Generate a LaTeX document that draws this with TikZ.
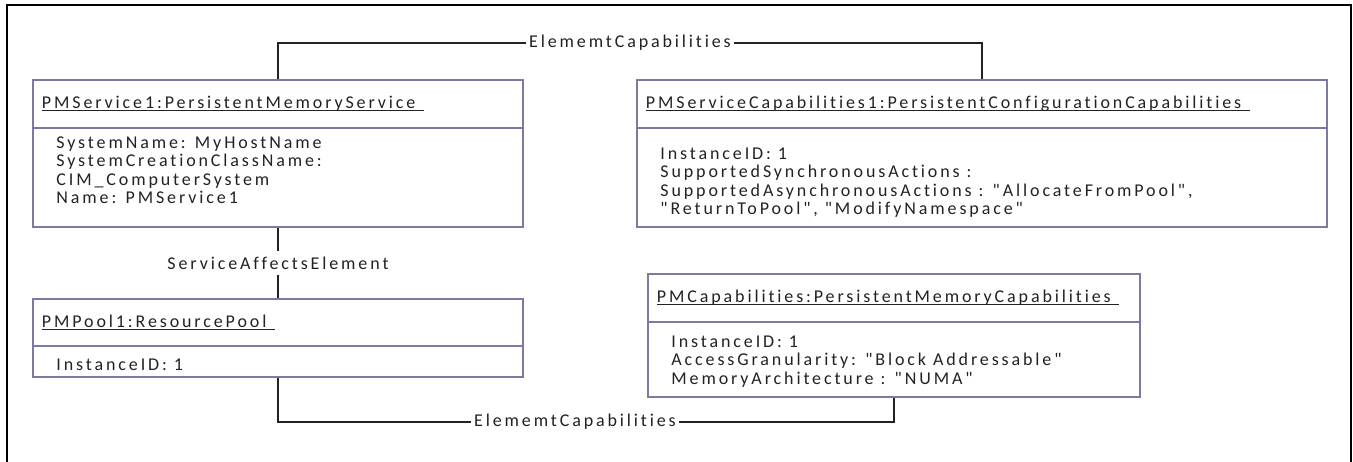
\documentclass[tikz,border=0pt]{standalone}
\usepackage{fontspec}
\setmainfont{Carlito}[LetterSpace=16, Ligatures={TeXOff,CommonOff}]
\usepackage{xcolor}
\usetikzlibrary{positioning}

\definecolor{boxline}{RGB}{122,122,164}
\definecolor{ink}{RGB}{34,34,34}

\tikzset{
  objbox/.style={draw=boxline, line width=1.5pt, inner sep=0pt},
  objname/.style={anchor=base west, inner sep=0pt, text=ink},
  objattr/.style={anchor=north west, inner sep=0pt, align=left, text=ink,
    execute at begin node={\rule{0pt}{13pt}}},
  divider/.style={draw=boxline, line width=1.5pt},
  uline/.style={draw=ink, line width=1pt},
  link/.style={draw=ink, line width=1.5pt},
  linklabel/.style={fill=white, inner xsep=3pt, inner ysep=5pt, text=ink},
}

\begin{document}
\begin{tikzpicture}[x=1pt, y=-1pt, font=\fontsize{18pt}{18.5pt}\selectfont]
  \useasboundingbox (0,0) rectangle (1353,462);
  \draw[line width=2.4pt] (7,462) -- (7,5) -- (1351,5) -- (1351,462);

  \node[objbox, minimum width=490pt, minimum height=147pt] (svc) at (278,153.5) {};
  \draw[divider] ([yshift=-49pt]svc.north west) -- ([yshift=-49pt]svc.north east);
  \node[objname] (svcname) at ([xshift=9.5pt,yshift=-29.5pt]svc.north west) {PMService1:PersistentMemoryService};
  \draw[uline] ([yshift=-1.5pt]svcname.base west) -- ([xshift=8pt,yshift=-1.5pt]svcname.base east);
  \node[objattr] (svcattr) at ([xshift=24pt,yshift=-57pt]svc.north west)
    {SystemName: MyHostName\\SystemCreationClassName:\\CIM\_ComputerSystem\\Name: PMService1};

  \node[objbox, minimum width=690pt, minimum height=147pt] (cap) at (982,153.5) {};
  \draw[divider] ([yshift=-49pt]cap.north west) -- ([yshift=-49pt]cap.north east);
  \node[objname] (capname) at ([xshift=9.5pt,yshift=-29.5pt]cap.north west) {PMServiceCapabilities1:PersistentConfigurationCapabilities};
  \draw[uline] ([yshift=-1.5pt]capname.base west) -- ([xshift=8pt,yshift=-1.5pt]capname.base east);
  \node[objattr] (capattr) at ([xshift=24pt,yshift=-68pt]cap.north west)
    {InstanceID: 1\\SupportedSynchronousActions :\\SupportedAsynchronousActions : "AllocateFromPool",\\"ReturnToPool", "ModifyNamespace"};

  \node[objbox, minimum width=490pt, minimum height=78pt] (pool) at (278,338) {};
  \draw[divider] ([yshift=-48pt]pool.north west) -- ([yshift=-48pt]pool.north east);
  \node[objname] (poolname) at ([xshift=9.5pt,yshift=-29.5pt]pool.north west) {PMPool1:ResourcePool};
  \draw[uline] ([yshift=-1.5pt]poolname.base west) -- ([xshift=8pt,yshift=-1.5pt]poolname.base east);
  \node[objattr] (poolattr) at ([xshift=24pt,yshift=-59pt]pool.north west) {InstanceID: 1};

  \node[objbox, minimum width=492pt, minimum height=123pt] (pmcap) at (894,335.5) {};
  \draw[divider] ([yshift=-49pt]pmcap.north west) -- ([yshift=-49pt]pmcap.north east);
  \node[objname] (pmcapname) at ([xshift=9.5pt,yshift=-29.5pt]pmcap.north west) {PMCapabilities:PersistentMemoryCapabilities};
  \draw[uline] ([yshift=-1.5pt]pmcapname.base west) -- ([xshift=8pt,yshift=-1.5pt]pmcapname.base east);
  \node[objattr] (pmcapattr) at ([xshift=24pt,yshift=-62pt]pmcap.north west)
    {InstanceID: 1\\AccessGranularity: "Block Addressable"\\MemoryArchitecture : "NUMA"};

  \node[linklabel] (topcap) at (630,43) {ElememtCapabilities};
  \draw[link] (svc.north) |- (topcap.west);
  \draw[link] (topcap.east) -| (cap.north);

  \node[linklabel] (affects) at (278,263) {ServiceAffectsElement};
  \draw[link] (svc.south) -- (affects.north);
  \draw[link] (affects.south) -- (pool.north);

  \node[linklabel] (botcap) at (575,422) {ElememtCapabilities};
  \draw[link] (pool.south) |- (botcap.west);
  \draw[link] (botcap.east) -| (pmcap.south);
\end{tikzpicture}
\end{document}
